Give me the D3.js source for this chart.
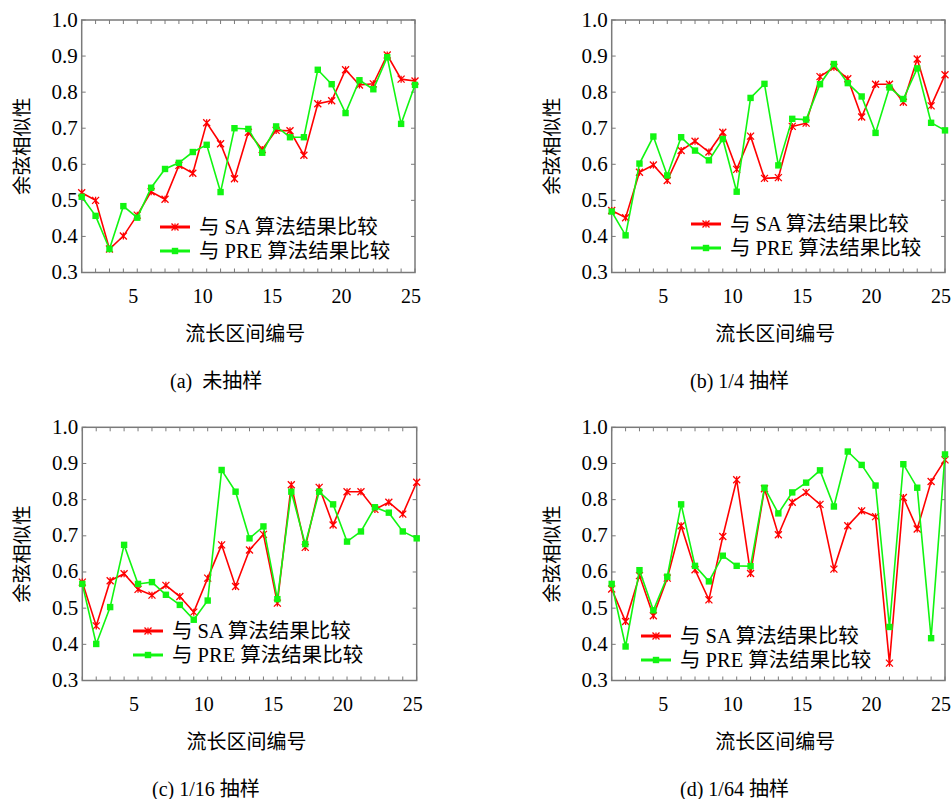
<!DOCTYPE html>
<html>
<head>
<meta charset="utf-8">
<script src="https://cdn.jsdelivr.net/npm/d3@7"></script>
<style>
  html, body { margin: 0; padding: 0; background: #fff; }
  svg { display: block; }
  text { font-family: "Liberation Serif", "Times New Roman", "Noto Sans CJK SC", serif; fill: #000; }
</style>
</head>
<body>
<svg id="chart" width="951" height="799"></svg>
<script>
// Interval index along the x axis (flow-length intervals 1..25)
const intervals = [1,2,3,4,5,6,7,8,9,10,11,12,13,14,15,16,17,18,19,20,21,22,23,24,25];
const xTickLabels = [5, 10, 15, 20, 25];
const yTickValues = [0.3, 0.4, 0.5, 0.6, 0.7, 0.8, 0.9, 1.0];

const seriesNames = ["与 SA 算法结果比较", "与 PRE 算法结果比较"];
const panelCaptions = ["(a)  未抽样", "(b) 1/4 抽样", "(c) 1/16 抽样", "(d) 1/64 抽样"];
const xTitle = "流长区间编号";
const yTitle = "余弦相似性";

// (a) no sampling
const saFull  = [0.521,0.500,0.365,0.401,0.459,0.524,0.503,0.597,0.575,0.715,0.657,0.560,0.689,0.641,0.694,0.693,0.625,0.768,0.776,0.862,0.820,0.823,0.903,0.836,0.831];
const preFull = [0.510,0.457,0.365,0.484,0.452,0.535,0.587,0.604,0.634,0.654,0.523,0.700,0.698,0.632,0.705,0.675,0.675,0.862,0.822,0.742,0.833,0.808,0.897,0.712,0.820];
// (b) 1/4 sampling
const saQuarter  = [0.472,0.452,0.578,0.598,0.555,0.638,0.664,0.634,0.689,0.586,0.678,0.561,0.563,0.705,0.714,0.843,0.869,0.837,0.731,0.822,0.822,0.772,0.892,0.762,0.848];
const preQuarter = [0.469,0.403,0.602,0.677,0.569,0.675,0.638,0.611,0.670,0.524,0.784,0.823,0.597,0.726,0.724,0.822,0.878,0.825,0.788,0.687,0.813,0.781,0.866,0.715,0.694];
// (c) 1/16 sampling
const saSixteenth  = [0.572,0.451,0.576,0.595,0.552,0.536,0.563,0.532,0.489,0.583,0.675,0.560,0.661,0.704,0.514,0.841,0.668,0.834,0.730,0.822,0.822,0.773,0.793,0.760,0.848];
const preSixteenth = [0.567,0.401,0.503,0.675,0.567,0.572,0.537,0.509,0.468,0.521,0.882,0.822,0.693,0.726,0.525,0.822,0.677,0.822,0.787,0.684,0.712,0.779,0.764,0.712,0.693];
// (d) 1/64 sampling
const saSixtyFourth  = [0.553,0.463,0.590,0.479,0.583,0.728,0.606,0.523,0.698,0.855,0.596,0.830,0.703,0.793,0.820,0.787,0.608,0.728,0.769,0.753,0.348,0.806,0.719,0.850,0.910];
const preSixtyFourth = [0.567,0.394,0.605,0.494,0.587,0.787,0.617,0.574,0.645,0.617,0.616,0.833,0.762,0.820,0.847,0.881,0.781,0.933,0.896,0.839,0.448,0.898,0.833,0.417,0.925];

const seriesColors = ["#ff0000", "#11f511"];

// Panel frames and legend anchors
const panels = [
  { sa: saFull,        pre: preFull,        caption: panelCaptions[0], box: [81.7, 20, 415, 272.5],   legend: [160, 227], capX: 170 },
  { sa: saQuarter,     pre: preQuarter,     caption: panelCaptions[1], box: [611.7, 20, 945, 272.5],  legend: [691, 224], capX: 690 },
  { sa: saSixteenth,   pre: preSixteenth,   caption: panelCaptions[2], box: [82.3, 427.3, 416.7, 680.5], legend: [133, 631], capX: 152 },
  { sa: saSixtyFourth, pre: preSixtyFourth, caption: panelCaptions[3], box: [611.7, 427.3, 945, 680.5], legend: [641, 636], capX: 680 }
];

const svg = d3.select("#chart");
const frameColor = "#7a7a7a";
const tickLen = 4;

function starPath(r) {
  return `M${-r},${-r}L${r},${r}M${-r},${r}L${r},${-r}M0,${-r}L0,${r}`;
}

function drawMarker(g, kind, x, y, color) {
  if (kind === 0) {
    g.append("path").attr("d", starPath(3.5)).attr("transform", `translate(${x},${y})`)
      .attr("stroke", color).attr("stroke-width", 1.3).attr("fill", "none");
  } else {
    g.append("rect").attr("x", x - 3.2).attr("y", y - 3.2).attr("width", 6.4).attr("height", 6.4)
      .attr("fill", color);
  }
}

panels.forEach(p => {
  const [x0, y0, x1, y1] = p.box;
  const x = d3.scaleLinear().domain([1, 25]).range([x0, x1]);
  const y = d3.scaleLinear().domain([0.3, 1.0]).range([y1, y0]);
  const g = svg.append("g");

  // Inward ticks on all four sides
  const ticks = g.append("g").attr("stroke", frameColor).attr("stroke-width", 1);
  intervals.forEach(i => {
    ticks.append("line").attr("x1", x(i)).attr("x2", x(i)).attr("y1", y1).attr("y2", y1 - tickLen);
    ticks.append("line").attr("x1", x(i)).attr("x2", x(i)).attr("y1", y0).attr("y2", y0 + tickLen);
  });
  yTickValues.forEach(v => {
    ticks.append("line").attr("x1", x0).attr("x2", x0 + tickLen).attr("y1", y(v)).attr("y2", y(v));
    ticks.append("line").attr("x1", x1).attr("x2", x1 - tickLen).attr("y1", y(v)).attr("y2", y(v));
  });

  // Frame
  g.append("rect").attr("x", x0).attr("y", y0).attr("width", x1 - x0).attr("height", y1 - y0)
    .attr("fill", "none").attr("stroke", frameColor).attr("stroke-width", 1.5);

  // Tick labels
  yTickValues.forEach(v => {
    g.append("text").attr("x", x0 - 4).attr("y", y(v) + 6.5).attr("text-anchor", "end")
      .attr("font-size", 21).text(v.toFixed(1));
  });
  xTickLabels.forEach(v => {
    g.append("text").attr("x", x(v) - 4).attr("y", y1 + 30).attr("text-anchor", "middle")
      .attr("font-size", 20).text(v);
  });

  // Axis titles and caption
  g.append("text").attr("x", (x0 + x1) / 2 - 3).attr("y", y1 + 68).attr("text-anchor", "middle")
    .attr("font-size", 20).text(xTitle);
  g.append("text").attr("transform", `translate(${x0 - 53},${(y0 + y1) / 2}) rotate(-90)`)
    .attr("text-anchor", "middle").attr("font-size", 19.5).text(yTitle);
  g.append("text").attr("x", p.capX).attr("y", y1 + 115).attr("font-size", 20).attr("xml:space", "preserve")
    .style("white-space", "pre").text(p.caption);

  // Series lines and markers
  const line = d3.line().x((d, i) => x(intervals[i])).y(d => y(d));
  [p.sa, p.pre].forEach((vals, k) => {
    g.append("path").datum(vals).attr("d", line).attr("fill", "none")
      .attr("stroke", seriesColors[k]).attr("stroke-width", 1.6);
    vals.forEach((v, i) => drawMarker(g, k, x(intervals[i]), y(v), seriesColors[k]));
  });

  // Legend
  const [lx, ly] = p.legend;
  [0, 1].forEach(k => {
    const yy = ly + k * 24;
    g.append("line").attr("x1", lx).attr("x2", lx + 30).attr("y1", yy).attr("y2", yy)
      .attr("stroke", seriesColors[k]).attr("stroke-width", 3);
    drawMarker(g, k, lx + 15, yy, seriesColors[k]);
    g.append("text").attr("x", lx + 39).attr("y", yy + 7).attr("font-size", 20.5)
      .attr("xml:space", "preserve").style("white-space", "pre").text(seriesNames[k]);
  });
});
</script>
</body>
</html>
